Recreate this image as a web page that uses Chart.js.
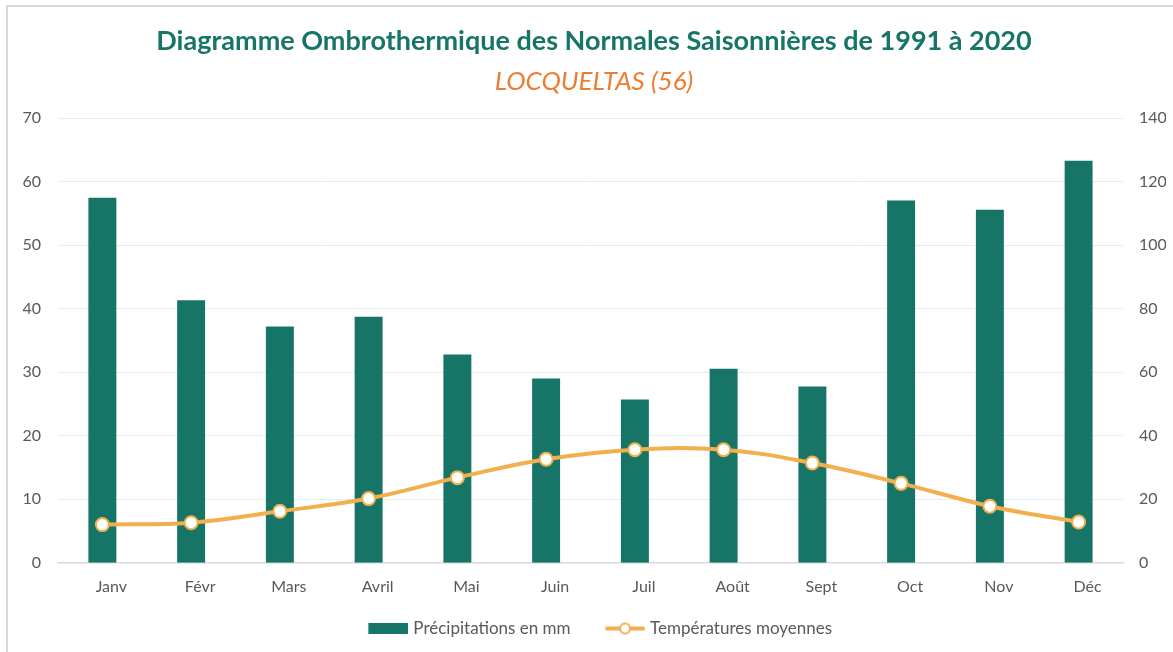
<!DOCTYPE html>
<html lang="fr">
<head>
<meta charset="utf-8">
<title>Diagramme Ombrothermique - Locqueltas</title>
<script src="https://cdn.jsdelivr.net/npm/chart.js@4/dist/chart.umd.min.js"></script>
<style>
  html, body { margin: 0; padding: 0; background: #fff; }
  #wrap { position: relative; width: 1173px; height: 652px; overflow: hidden; }
  #frame { position: absolute; left: 6px; top: 5px; width: 1200px; height: 700px;
           border-left: 2px solid #d9d9d9; border-top: 2px solid #d9d9d9; }
  #chart { position: absolute; left: 0; top: 0; }
</style>
</head>
<body>
<div id="wrap">
  <div id="frame"></div>
  <canvas id="chart" width="1173" height="652"></canvas>
</div>
<script>
"use strict";
const months = ['Janv', 'Févr', 'Mars', 'Avril', 'Mai', 'Juin', 'Juil', 'Août', 'Sept', 'Oct', 'Nov', 'Déc'];
const precipitations = [115.0, 82.7, 74.4, 77.5, 65.6, 58.0, 51.4, 61.1, 55.5, 114.1, 111.2, 126.6];
const temperatures = [6.0, 6.3, 8.1, 10.1, 13.4, 16.3, 17.8, 17.8, 15.7, 12.5, 8.9, 6.4];
const tempTicks = [0, 10, 20, 30, 40, 50, 60, 70];
const precipTicks = [0, 20, 40, 60, 80, 100, 120, 140];

const teal = '#177567';
const orange = '#f2af4d';
const grey = '#595959';
const font = 'Lato';

// small pictures used as legend symbols (56 px wide, drawn over a 49 px legend box)
function barSymbol() {
    const c = document.createElement('canvas');
    c.width = 56;
    c.height = 11;
    const g = c.getContext('2d');
    g.fillStyle = teal;
    g.fillRect(16, 0, 40, 11);
    return c;
}
function lineSymbol() {
    const c = document.createElement('canvas');
    c.width = 56;
    c.height = 14;
    const g = c.getContext('2d');
    g.strokeStyle = orange;
    g.lineWidth = 4;
    g.lineCap = 'round';
    g.beginPath();
    g.moveTo(18, 7);
    g.lineTo(54, 7);
    g.stroke();
    g.beginPath();
    g.arc(36, 7, 5, 0, Math.PI * 2);
    g.fillStyle = '#fff';
    g.fill();
    g.lineWidth = 2;
    g.stroke();
    return c;
}

const ctx = document.getElementById('chart').getContext('2d');
new Chart(ctx, {
    type: 'bar',
    data: {
        labels: months,
        datasets: [
            {
                type: 'line',
                label: 'Températures moyennes',
                data: temperatures,
                yAxisID: 'y',
                order: 1,
                borderColor: orange,
                borderWidth: 4,
                tension: 0.4,
                pointRadius: 6.5,
                pointBackgroundColor: '#fff',
                pointBorderColor: orange,
                pointBorderWidth: 2,
                fill: false
            },
            {
                type: 'bar',
                label: 'Précipitations en mm',
                data: precipitations,
                yAxisID: 'y1',
                order: 2,
                backgroundColor: teal,
                categoryPercentage: 1,
                barPercentage: 0.315
            }
        ]
    },
    options: {
        responsive: false,
        animation: false,
        layout: { padding: { left: 22, right: 7, top: 0, bottom: 5 } },
        plugins: {
            title: {
                display: true,
                text: 'Diagramme Ombrothermique des Normales Saisonnières de 1991 à 2020',
                color: teal,
                font: { family: font, size: 27, weight: 'bold' },
                padding: { top: 24.8, bottom: 0 }
            },
            subtitle: {
                display: true,
                text: 'LOCQUELTAS (56)',
                color: '#ed7d31',
                font: { family: font, size: 26, style: 'italic' },
                padding: { top: 9.2, bottom: 20.7 }
            },
            legend: {
                position: 'bottom',
                labels: {
                    usePointStyle: true,
                    pointStyleWidth: 49,
                    padding: 22,
                    color: grey,
                    font: { family: font, size: 17 },
                    generateLabels: () => [
                        { text: 'Précipitations en mm', pointStyle: barSymbol(), datasetIndex: 1,
                          fillStyle: 'transparent', strokeStyle: 'transparent', lineWidth: 0, fontColor: grey },
                        { text: 'Températures moyennes', pointStyle: lineSymbol(), datasetIndex: 0,
                          fillStyle: 'transparent', strokeStyle: 'transparent', lineWidth: 0, fontColor: grey }
                    ]
                }
            },
            tooltip: { enabled: false }
        },
        scales: {
            x: {
                grid: { display: false, drawTicks: false },
                border: { color: '#d9d9d9', width: 1.5 },
                ticks: { color: grey, font: { family: font, size: 16 }, padding: 15, labelOffset: 9 },
                afterFit: axis => { axis.height = 35.3; }
            },
            y: {
                position: 'left',
                min: 0,
                max: 70,
                afterBuildTicks: axis => { axis.ticks = tempTicks.map(v => ({ value: v })); },
                grid: { color: '#dfefec', lineWidth: 1, drawTicks: false },
                border: { display: false },
                ticks: { color: grey, font: { family: font, size: 16 }, padding: 17 },
                afterFit: axis => { axis.width = 36; }
            },
            y1: {
                position: 'right',
                min: 0,
                max: 140,
                afterBuildTicks: axis => { axis.ticks = precipTicks.map(v => ({ value: v })); },
                grid: { display: false, drawTicks: false },
                border: { display: false },
                ticks: { color: grey, font: { family: font, size: 16 }, padding: 16 },
                afterFit: axis => { axis.width = 43; }
            }
        }
    }
});
</script>
</body>
</html>
